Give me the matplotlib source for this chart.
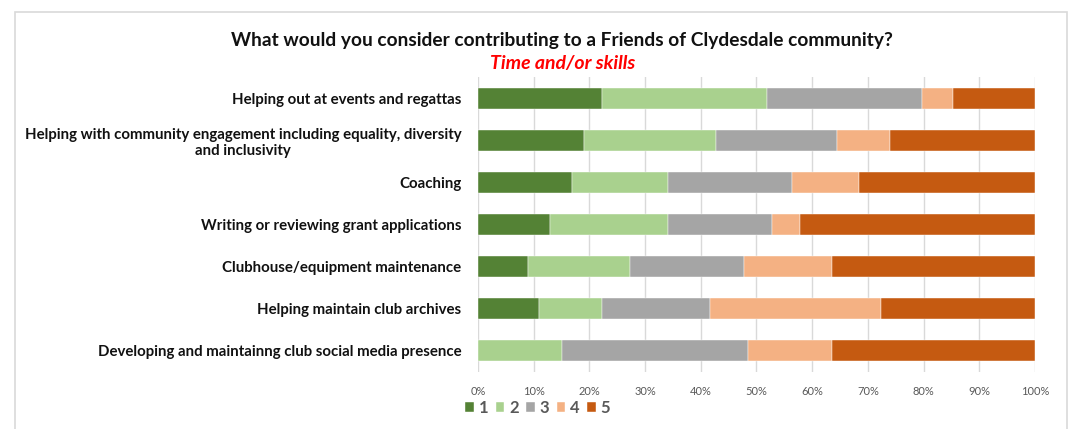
import numpy as np
import matplotlib.pyplot as plt
from matplotlib.patches import Rectangle

plt.rcParams['font.family'] = ['Lato', 'DejaVu Sans']

# atividades, de cima para baixo
activities = [
    "Helping out at events and regattas",
    "Helping with community engagement including equality, diversity\nand inclusivity",
    "Coaching",
    "Writing or reviewing grant applications",
    "Clubhouse/equipment maintenance",
    "Helping maintain club archives",
    "Developing and maintainng club social media presence",
]

# percentual de respostas por nota (1 a 5)
score_1 = [22.2, 19.0, 16.9, 12.9, 9.0, 11.0, 0.0]
score_2 = [29.6, 23.8, 17.3, 21.3, 18.3, 11.3, 15.1]
score_3 = [27.9, 21.6, 22.1, 18.5, 20.5, 19.4, 33.4]
score_4 = [5.6, 9.5, 12.1, 5.1, 15.8, 30.6, 15.1]
score_5 = [14.7, 26.1, 31.6, 42.2, 36.4, 27.7, 36.4]

series_names = ["1", "2", "3", "4", "5"]
colors = ["#548235", "#A9D18E", "#A5A5A5", "#F4B183", "#C55A11"]

fig = plt.figure(figsize=(10.77, 4.29), dpi=100)
ax = fig.add_axes([0.4438, 0.133, 0.5172, 0.6875])

# moldura do gráfico
fig.patches.append(Rectangle((0.014, -0.01), 0.977, 0.982, transform=fig.transFigure,
                             fill=False, edgecolor="#D9D9D9", linewidth=1.2))

y = np.arange(len(activities))
left = np.zeros(len(activities))
for name, vals, col in zip(series_names, [score_1, score_2, score_3, score_4, score_5], colors):
    vals = np.array(vals)
    ax.barh(y, vals, left=left, height=0.5, color=col, label=name,
            edgecolor="white", linewidth=0.3, zorder=3)
    left += vals

ax.set_xlim(0, 100)
ax.set_ylim(len(activities) - 0.5, -0.5)
ax.set_xticks(np.arange(0, 101, 10))
ax.set_xticklabels([f"{t}%" for t in range(0, 101, 10)], color="#595959", fontsize=8)
ax.set_yticks(y)
ax.set_yticklabels(activities, fontsize=10.8, fontweight="bold", ha="right",
                   multialignment="center", color="#111111", linespacing=1.25)
ax.tick_params(axis="y", length=0, pad=12)
ax.tick_params(axis="x", length=0, pad=10)
ax.grid(axis="x", color="#D9D9D9", linewidth=1, zorder=0)
for s in ax.spines.values():
    s.set_visible(False)

fig.text(0.522, 0.905, "What would you consider contributing to a Friends of Clydesdale community?",
         ha="center", va="center", fontsize=13.8, fontweight="bold", color="#111111")
fig.text(0.522, 0.853, "Time and/or skills", ha="center", va="center",
         fontsize=14, fontweight="bold", style="italic", color="#FF0000")

leg = ax.legend(loc="upper left", ncol=5, frameon=False, handlelength=0.5, handleheight=0.5,
                handletextpad=0.3, columnspacing=0.45, borderaxespad=0,
                prop={"size": 12, "weight": "bold"})
leg.set_bbox_to_anchor((0.426, 0.083), transform=fig.transFigure)
for t in leg.get_texts():
    t.set_color("#595959")

fig.savefig("out.png", dpi=100)
